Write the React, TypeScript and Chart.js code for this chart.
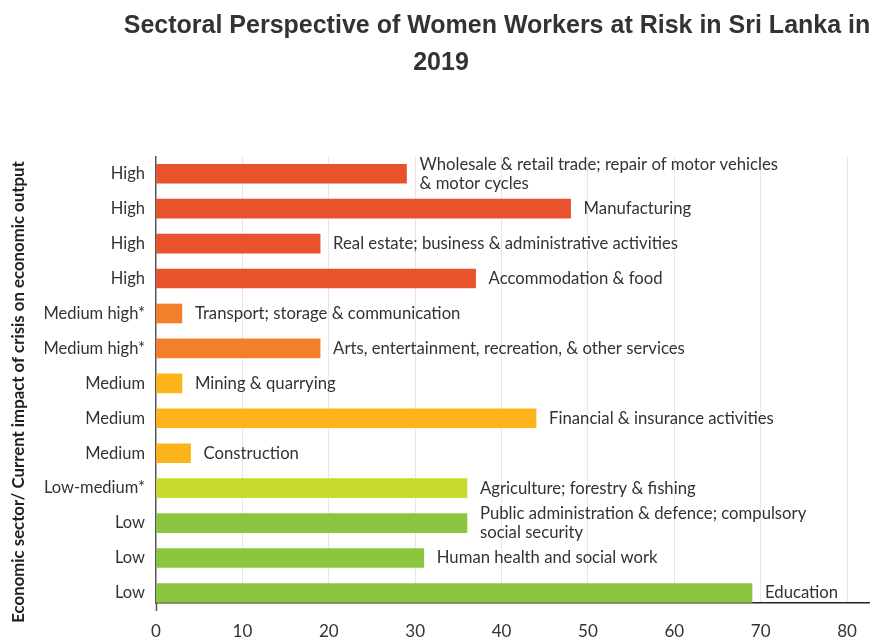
import React, { useEffect, useRef } from "react";
import { Chart, registerables } from "chart.js";

Chart.register(...registerables);

const titleLine1 = "Sectoral Perspective of Women Workers at Risk in Sri Lanka in";
const titleLine2 = "2019";
const yAxisTitle = "Economic sector/ Current impact of crisis on economic output";

const riskLevels = [
  "High",
  "High",
  "High",
  "High",
  "Medium high*",
  "Medium high*",
  "Medium",
  "Medium",
  "Medium",
  "Low-medium*",
  "Low",
  "Low",
  "Low",
];

const sectors: string[][] = [
  ["Wholesale & retail trade; repair of motor vehicles", "& motor cycles"],
  ["Manufacturing"],
  ["Real estate; business & administrative activities"],
  ["Accommodation & food"],
  ["Transport; storage & communication"],
  ["Arts, entertainment, recreation, & other services"],
  ["Mining & quarrying"],
  ["Financial & insurance activities"],
  ["Construction"],
  ["Agriculture; forestry & fishing"],
  ["Public administration & defence; compulsory", "social security"],
  ["Human health and social work"],
  ["Education"],
];

const values = [29, 48, 19, 37, 3, 19, 3, 44, 4, 36, 36, 31, 69];

const riskColors: Record<string, string> = {
  "High": "#E8532D",
  "Medium high*": "#F47F2B",
  "Medium": "#FDB31A",
  "Low-medium*": "#C9DA2F",
  "Low": "#8CC540",
};

const sectorLabelPlugin = {
  id: "sectorLabels",
  afterDatasetsDraw(chart: any) {
    const ctx = chart.ctx;
    const meta = chart.getDatasetMeta(0);
    ctx.save();
    ctx.font = "16.7px Lato";
    ctx.fillStyle = "#333333";
    ctx.textBaseline = "middle";
    ctx.textAlign = "left";
    meta.data.forEach((el: any, i: number) => {
      const lines = sectors[i];
      const n = lines.length;
      lines.forEach((line, j) => {
        ctx.fillText(line, el.x + 13, el.y + (j - (n - 1) / 2) * 19);
      });
    });
    ctx.restore();
  },
};

const yTitlePlugin = {
  id: "yTitle",
  afterDraw(chart: any) {
    const ctx = chart.ctx;
    ctx.save();
    ctx.translate(19, 392);
    ctx.rotate(-Math.PI / 2);
    ctx.font = "bold 16.8px Lato";
    ctx.fillStyle = "#222222";
    ctx.textAlign = "center";
    ctx.textBaseline = "middle";
    ctx.fillText(yAxisTitle, 0, 0);
    ctx.restore();
  },
};

export default function App() {
  const canvasRef = useRef<HTMLCanvasElement | null>(null);

  useEffect(() => {
    document.body.style.margin = "0";
    document.body.style.overflow = "hidden";
    const canvas = canvasRef.current;
    if (!canvas) return;
    const chart = new Chart(canvas, {
      type: "bar",
      data: {
        datasets: [
          {
            data: values.map((v, i) => ({ x: v, y: i })) as any,
            backgroundColor: riskLevels.map((r) => riskColors[r]),
            barThickness: 19,
            borderWidth: 0,
          },
        ],
      },
      options: {
        indexAxis: "y",
        responsive: false,
        animation: false,
        layout: { padding: { top: 157, bottom: 4.6, left: 0, right: 0 } },
        plugins: {
          legend: { display: false },
          tooltip: { enabled: false },
          title: { display: false },
        },
        scales: {
          x: {
            type: "linear",
            bounds: "data",
            min: 0,
            max: 82.66,
            ticks: {
              stepSize: 10,
              includeBounds: false,
              font: { family: "Lato", size: 17 },
              color: "#333333",
              padding: 10,
            },
            grid: {
              color: (c: any) => (c.tick && c.tick.value === 0 ? "rgba(0,0,0,0)" : "#e6e6e6"),
              lineWidth: 1,
              drawTicks: true,
              tickLength: 8,
              tickColor: (c: any) => (c.tick && c.tick.value === 0 ? "#555555" : "rgba(0,0,0,0)"),
              tickWidth: 1.5,
            },
            border: { display: true, color: "#222222", width: 1.5 },
          },
          y: {
            type: "linear",
            bounds: "data",
            offset: false,
            reverse: true,
            min: -0.479,
            max: 12.287,
            afterBuildTicks: (scale: any) => {
              scale.ticks = riskLevels.map((_, i) => ({ value: i }));
            },
            afterFit: (scale: any) => {
              scale.width = 156;
            },
            ticks: {
              autoSkip: false,
              font: { family: "Lato", size: 16.5 },
              color: "#333333",
              padding: 11,
              callback: (v: any) => riskLevels[v as number] ?? "",
            },
            grid: { display: false, drawTicks: false, offset: false },
            border: { display: true, color: "#555555", width: 1.5 },
          },
        },
      },
      plugins: [sectorLabelPlugin, yTitlePlugin],
    });
    return () => chart.destroy();
  }, []);

  const titleStyle: React.CSSProperties = {
    position: "absolute",
    transform: "translateX(-50%)",
    whiteSpace: "nowrap",
    fontFamily: "'Liberation Sans', Arial, sans-serif",
    fontWeight: "bold",
    fontSize: "25px",
    lineHeight: "30px",
    color: "#333333",
  };

  return (
    <div style={{ position: "relative", width: 870, height: 639, overflow: "hidden", background: "#ffffff" }}>
      <canvas ref={canvasRef} width={870} height={656} style={{ position: "absolute", left: 0, top: 0 }} />
      <div style={{ ...titleStyle, left: 497, top: 9 }}>{titleLine1}</div>
      <div style={{ ...titleStyle, left: 441, top: 46 }}>{titleLine2}</div>
    </div>
  );
}
